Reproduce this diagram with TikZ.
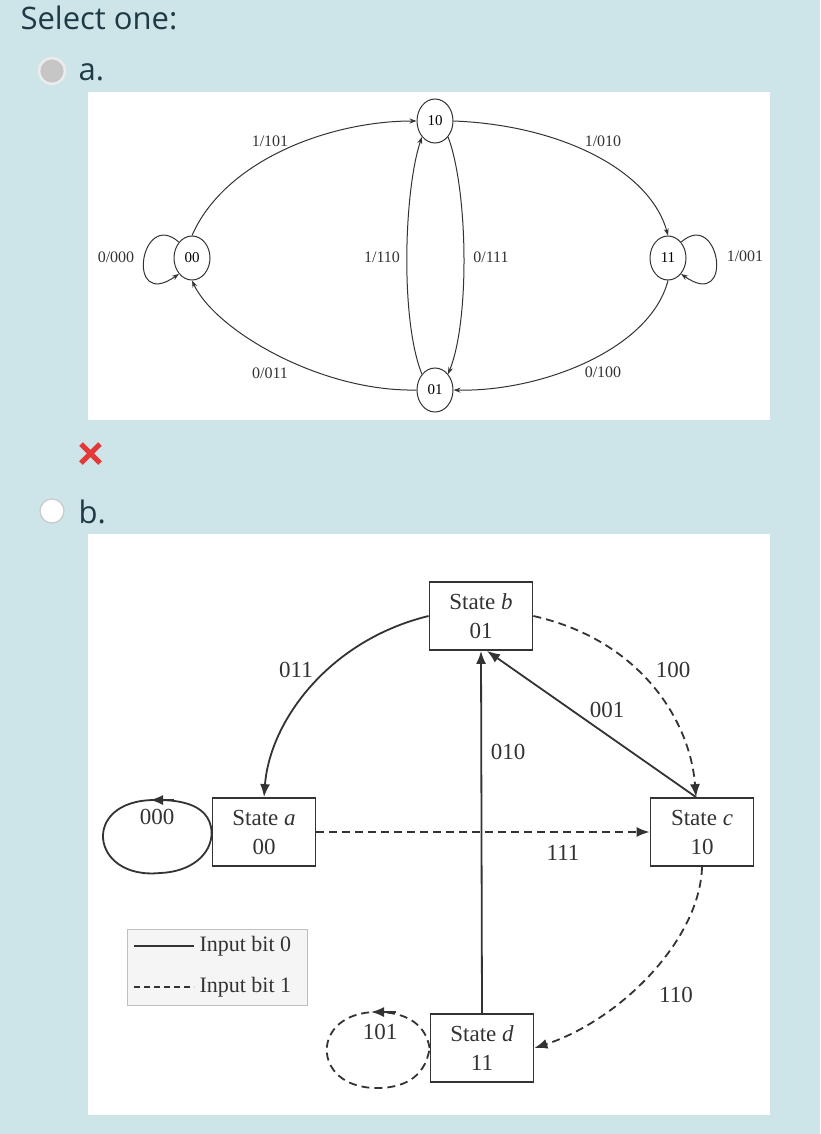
\documentclass[tikz,border=0pt]{standalone}
\usepackage{fontspec}
\setmainfont{Liberation Serif}
\newfontfamily\uifont{Open Sans}
\usetikzlibrary{arrows.meta,shapes.geometric}
\definecolor{bgc}{HTML}{CDE5E9}
\definecolor{uic}{HTML}{1E3A46}
\definecolor{ln}{HTML}{333333}
\begin{document}
\begin{tikzpicture}[x=1pt,y=-1pt,
  st/.style={draw=ln,ellipse,line width=1pt,minimum width=36,minimum height=44,inner sep=0pt,font=\fontsize{15}{15}\selectfont},
  ed/.style={draw=ln,-{Stealth[length=7pt,width=5pt]},line width=1pt},
  lb/.style={font=\fontsize{16}{16}\selectfont,text=ln},
  bx/.style={draw=ln,line width=1.8pt,minimum width=103,minimum height=68,align=center,inner sep=0pt,font=\fontsize{23}{29}\selectfont,text=ln},
  be/.style={draw=ln,line width=1.8pt,-{Latex[length=13pt,width=10pt]}},
  bd/.style={be,dash pattern=on 8pt off 5pt},
  bl/.style={font=\fontsize{23}{23}\selectfont,text=ln}]
\fill[bgc] (0,0) rectangle (820,1134);
\useasboundingbox (0,0) rectangle (820,1134);
\node[anchor=west,text=uic,font=\uifont\fontsize{31}{31}\selectfont] (sel) at (17,18) {Select one:};
\node[circle,fill=gray!45,draw=gray!15,line width=2.5pt,minimum size=26] (ra) at (52,71) {};
\node[circle,fill=white,draw=gray!40,line width=1.3pt,minimum size=24] (rb) at (52,511) {};
\node[anchor=west,text=uic,font=\uifont\fontsize{31}{31}\selectfont] (la) at (75,72) {a.};
\node[anchor=west,text=uic,font=\uifont\fontsize{31}{31}\selectfont] (lbb) at (75,512) {b.};
\draw[red!75!white!90!black,line width=5pt] (81,444) -- (100,463) (100,444) -- (81,463);
\fill[white] (88,92) rectangle (770,420);
\fill[white] (88,534) rectangle (770,1115);
% top diagram
\node[st] (s00) at (192,258) {00};
\node[st] (s10) at (435,121) {10};
\node[st] (s01) at (435,390) {01};
\node[st] (s11) at (668,258) {11};
\draw[ed] (s00.north) .. controls (225,160) and (330,121) .. (s10.west);
\draw[ed] (s10.east) .. controls (560,125) and (650,170) .. (s11.north);
\draw[ed] (s11.south) .. controls (650,350) and (540,392) .. (s01.east);
\draw[ed] (s01.west) .. controls (320,392) and (215,330) .. (s00.south);
\draw[ed] (s01.north west) .. controls (400,320) and (404,190) .. (s10.south west);
\draw[ed] (s10.south east) .. controls (468,190) and (470,320) .. (s01.north east);
\draw[ed] (s00.north west) .. controls (140,208) and (125,312) .. (s00.south west);
\draw[ed] (s11.north east) .. controls (720,208) and (735,312) .. (s11.south east);
\node[lb] (l1) at (270,141) {1/101};
\node[lb] (l2) at (603,141) {1/010};
\node[lb] (l3) at (270,373) {0/011};
\node[lb] (l4) at (603,372) {0/100};
\node[lb] (l5) at (116,257) {0/000};
\node[lb] (l6) at (745,256) {1/001};
\node[lb] (l7) at (382,257) {1/110};
\node[lb] (l8) at (491,257) {0/111};
% bottom diagram
\node[bx] (a) at (264,832) {State \textit{a}\\00};
\node[bx] (b) at (481,616) {State \textit{b}\\01};
\node[bx] (c) at (702,832) {State \textit{c}\\10};
\node[bx] (d) at (482,1048) {State \textit{d}\\11};
\draw[be] (b.west) .. controls (330,640) and (270,720) .. (a.north);
\draw[bd] (b.east) .. controls (640,640) and (690,720) .. ([xshift=-6]c.north);
\draw[be] ([xshift=-6]c.north) -- ([xshift=6]b.south);
\draw[be] (d.north) -- (b.south);
\draw[bd] (a.east) -- (c.west);
\draw[bd] (c.south) .. controls (700,940) and (620,1020) .. (d.east);
\draw[ln,line width=1.8pt] (a.west) .. controls (210,800) and (170,800) .. (155,800);
\draw[ln,line width=1.8pt] (155,800) .. controls (80,800) and (90,880) .. (160,873) .. controls (190,872) and (212,855) .. (a.west);
\draw[be] (174,800) -- (150,800);
\draw[ln,line width=1.8pt,dash pattern=on 8pt off 5pt] (d.west) .. controls (425,1020) and (400,1012) .. (377,1012) .. controls (310,1012) and (310,1088) .. (377,1088) .. controls (400,1088) and (425,1080) .. (d.west);
\draw[be] (396,1012) -- (371,1012);
\node[bl] (t011) at (296,670) {011};
\node[bl] (t100) at (673,670) {100};
\node[bl] (t001) at (607,710) {001};
\node[bl] (t010) at (508,752) {010};
\node[bl] (t111) at (563,853) {111};
\node[bl] (t110) at (676,995) {110};
\node[bl] (t000) at (157,817) {000};
\node[bl] (t101) at (380,1032) {101};
\node[draw=gray!50,fill=gray!8,line width=1.2pt,minimum width=180,minimum height=76,anchor=north west] (leg) at (127,929) {};
\draw[ln,line width=1.5pt] (134,946) coordinate (l0a) -- (194,946) coordinate (l0b);
\draw[ln,line width=1.5pt,dash pattern=on 6pt off 4pt] (134,987) coordinate (l1a) -- (194,987) coordinate (l1b);
\node[anchor=west,font=\fontsize{22}{22}\selectfont,text=ln] (i0) at (196,946) {Input bit 0};
\node[anchor=west,font=\fontsize{22}{22}\selectfont,text=ln] (i1) at (196,987) {Input bit 1};
\end{tikzpicture}
\end{document}
